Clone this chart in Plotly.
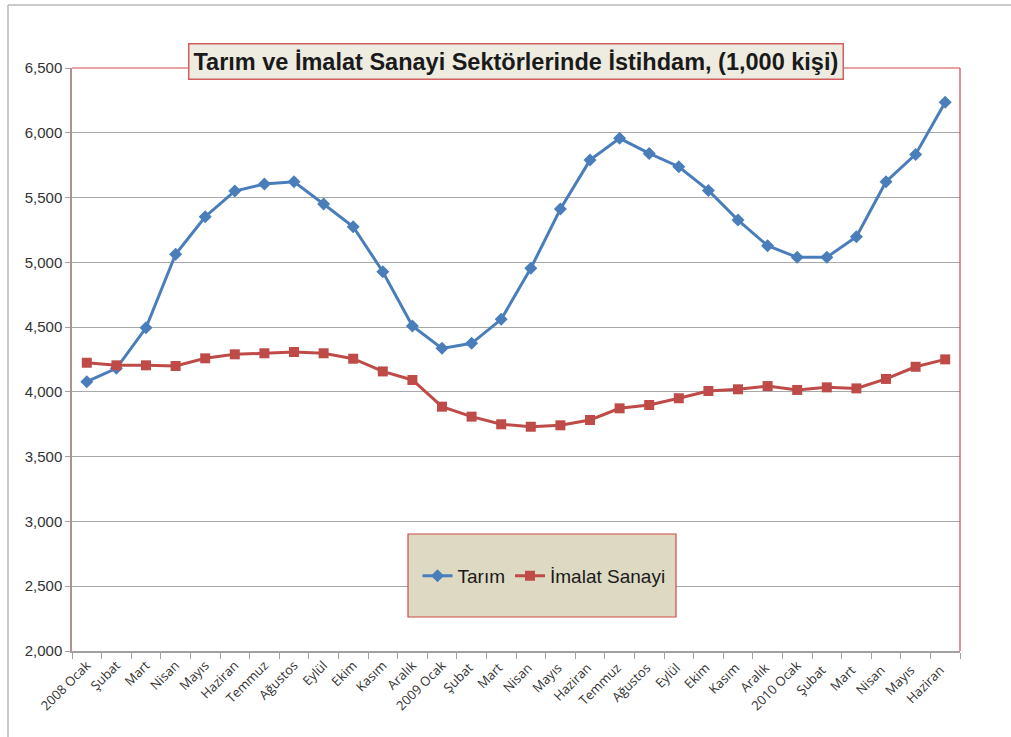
import plotly.graph_objects as go

months = ["2008 Ocak", "Şubat", "Mart", "Nisan", "Mayıs", "Haziran", "Temmuz", "Ağustos",
          "Eylül", "Ekim", "Kasım", "Aralık", "2009 Ocak", "Şubat ", "Mart ", "Nisan ",
          "Mayıs ", "Haziran ", "Temmuz ", "Ağustos ", "Eylül ", "Ekim ", "Kasım ", "Aralık ",
          "2010 Ocak", "Şubat  ", "Mart  ", "Nisan  ", "Mayıs  ", "Haziran  "]

tarim = [4079, 4182, 4495, 5062, 5352, 5550, 5604, 5622, 5450, 5275, 4928, 4508,
         4336, 4375, 4560, 4954, 5411, 5789, 5957, 5841, 5738, 5555, 5326, 5128,
         5039, 5039, 5198, 5622, 5833, 6235]

imalat = [4225, 4205, 4205, 4200, 4259, 4290, 4298, 4308, 4298, 4256, 4158, 4092,
          3886, 3809, 3750, 3731, 3742, 3783, 3873, 3899, 3951, 4007, 4020, 4045,
          4015, 4035, 4027, 4100, 4194, 4251]

y_ticks = [2000, 2500, 3000, 3500, 4000, 4500, 5000, 5500, 6000, 6500]

title_text = "<b>Tarım ve İmalat Sanayi Sektörlerinde İstihdam, (1,000 kişi)</b>"

fig = go.Figure()
fig.add_trace(go.Scatter(
    x=months, y=tarim, name="Tarım", mode="lines+markers",
    line=dict(color="#4A7EBB", width=3),
    marker=dict(symbol="diamond", size=10, color="#4A7EBB"),
))
fig.add_trace(go.Scatter(
    x=months, y=imalat, name="İmalat Sanayi", mode="lines+markers",
    line=dict(color="#BE4B48", width=3),
    marker=dict(symbol="square", size=10, color="#BE4B48"),
))

L, R, T, B = 72, 51, 68, 86
W, H = 1011, 737
pw, ph = W - L - R, H - T - B

def px(x):
    return (x - L) / pw

def py(y):
    return (H - B - y) / ph

shapes = [
    # outer chart border (top and left)
    dict(type="line", xref="paper", yref="paper", x0=px(8), x1=px(1011), y0=py(5), y1=py(5),
         line=dict(color="#B8B8B8", width=1.5)),
    dict(type="line", xref="paper", yref="paper", x0=px(8), x1=px(8), y0=py(5), y1=py(737),
         line=dict(color="#B8B8B8", width=1.5)),
    # plot area border top/right
    dict(type="line", xref="paper", yref="paper", x0=0, x1=1, y0=1, y1=1,
         line=dict(color="#D04848", width=1.2)),
    dict(type="line", xref="paper", yref="paper", x0=1, x1=1, y0=0, y1=1,
         line=dict(color="#D04848", width=1.2)),
    # legend box
    dict(type="rect", xref="paper", yref="paper", x0=px(408), x1=px(676), y0=py(617), y1=py(534),
         fillcolor="#DDD9C3", line=dict(color="#D04848", width=1.2), layer="above"),
]

fig.update_layout(
    width=W, height=H,
    margin=dict(l=L, r=R, t=T, b=B),
    paper_bgcolor="white", plot_bgcolor="white",
    font=dict(family="Liberation Sans, Arial, sans-serif", color="#333333"),
    shapes=shapes,
    showlegend=True,
    legend=dict(
        orientation="h", x=px(544), y=py(576), xanchor="center", yanchor="middle",
        bgcolor="rgba(0,0,0,0)", font=dict(size=19, color="#1A1A1A"),
        itemwidth=30, tracegroupgap=0,
    ),
    annotations=[dict(
        text=title_text, xref="paper", yref="paper", x=px(516), y=py(61.5),
        xanchor="center", yanchor="middle", showarrow=False,
        font=dict(size=23.5, color="#1A1A1A", family="Liberation Sans, Arial, sans-serif"),
        bgcolor="#EEECE1", bordercolor="#D06060", borderwidth=1.5, borderpad=4,
    )],
)

fig.update_xaxes(
    type="category", tickson="boundaries", tickangle=-45,
    range=[-0.5, len(months) - 0.5],
    ticks="outside", ticklen=6, tickcolor="#A0A0A0",
    showline=True, linecolor="#A0A0A0", linewidth=1.5,
    showgrid=False, zeroline=False,
    tickfont=dict(size=13, color="#333333", family="Open Sans, Liberation Sans, sans-serif"),
)
fig.update_yaxes(
    range=[2000, 6500], tickvals=y_ticks, tickformat=",",
    ticks="outside", ticklen=5, tickcolor="#A0A0A0",
    showline=True, linecolor="#B09090", linewidth=1.5,
    showgrid=True, gridcolor="#A8A8A8", gridwidth=1.3, zeroline=False,
    tickfont=dict(size=15, color="#333333"),
)

fig.write_html("out.html", config={"displayModeBar": False},
               post_script="document.body.style.margin='0';")
